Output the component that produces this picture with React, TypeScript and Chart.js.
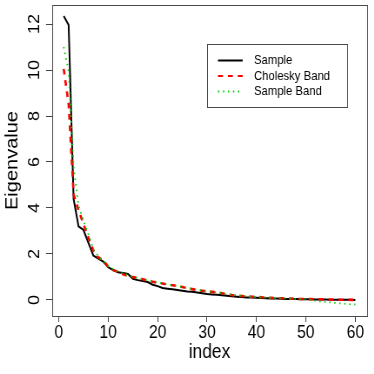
import React, { useEffect, useRef } from "react";
import { Chart, registerables } from "chart.js";
Chart.register(...registerables);

// ---- data ----
const indexValues = [
  1, 2, 3, 4, 5, 6, 7, 8, 9, 10, 11, 12, 13, 14, 15, 16, 17, 18, 19, 20,
  21, 22, 23, 24, 25, 26, 27, 28, 29, 30, 31, 32, 33, 34, 35, 36, 37, 38, 39, 40,
  41, 42, 43, 44, 45, 46, 47, 48, 49, 50, 51, 52, 53, 54, 55, 56, 57, 58, 59, 60,
];
const sampleValues = [
  12.35, 11.96, 4.4, 3.2, 3.04, 2.48, 1.93, 1.8, 1.67, 1.42,
  1.3, 1.2, 1.17, 1.13, 0.92, 0.86, 0.82, 0.78, 0.66, 0.6,
  0.52, 0.49, 0.46, 0.43, 0.4, 0.37, 0.35, 0.32, 0.29, 0.26,
  0.24, 0.22, 0.2, 0.18, 0.16, 0.14, 0.125, 0.11, 0.1, 0.09,
  0.08, 0.07, 0.065, 0.06, 0.05, 0.045, 0.04, 0.035, 0.03, 0.027,
  0.024, 0.02, 0.018, 0.015, 0.012, 0.01, 0.008, 0.005, 0.003, 0.001,
];
const choleskyValues = [
  10.05, 8.5, 4.6, 3.9, 3.3, 2.7, 2.15, 1.85, 1.72, 1.45,
  1.3, 1.22, 1.12, 1.05, 0.99, 0.95, 0.9, 0.84, 0.79, 0.75,
  0.71, 0.67, 0.64, 0.61, 0.56, 0.51, 0.47, 0.43, 0.4, 0.37,
  0.35, 0.33, 0.29, 0.25, 0.21, 0.18, 0.17, 0.15, 0.14, 0.125,
  0.115, 0.1, 0.09, 0.08, 0.07, 0.062, 0.055, 0.048, 0.042, 0.037,
  0.032, 0.028, 0.024, 0.02, 0.016, 0.012, 0.009, 0.006, 0.003, 0.0,
];
const sampleBandValues = [
  11.0, 9.95, 5.8, 4.1, 3.45, 2.85, 2.2, 1.88, 1.7, 1.48,
  1.33, 1.24, 1.15, 1.08, 1.0, 0.95, 0.9, 0.85, 0.8, 0.76,
  0.72, 0.68, 0.64, 0.6, 0.56, 0.52, 0.48, 0.44, 0.41, 0.38,
  0.35, 0.32, 0.29, 0.26, 0.23, 0.2, 0.18, 0.16, 0.14, 0.125,
  0.11, 0.1, 0.09, 0.08, 0.07, 0.06, 0.05, 0.04, 0.03, 0.02,
  0.0, -0.04, -0.07, -0.09, -0.11, -0.13, -0.15, -0.17, -0.19, -0.2,
];
const seriesLabels = ["Sample", "Cholesky Band", "Sample Band"];
const xTickValues = [0, 10, 20, 30, 40, 50, 60];
const yTickValues = [0, 2, 4, 6, 8, 10, 12];
const xAxisTitle = "index";
const yAxisTitle = "Eigenvalue";

// ---- layout / style ----
const SX = 0.87;
const W = 430;
const H = 374;
const FONT = "'Liberation Sans', Arial, Helvetica, sans-serif";

const toPoints = (vals: number[]) => vals.map((v, i) => ({ x: indexValues[i], y: v }));

const framePlugin = {
  id: "rframe",
  afterDatasetsDraw(chart: any) {
    const { ctx, chartArea: a } = chart;
    ctx.save();
    ctx.strokeStyle = "#4a4a4a";
    ctx.lineWidth = 1;
    ctx.setLineDash([]);
    ctx.strokeRect(
      Math.round(a.left) + 0.5,
      Math.round(a.top) + 0.5,
      Math.round(a.right - a.left),
      Math.round(a.bottom - a.top)
    );
    ctx.restore();
  },
};

const legendPlugin = {
  id: "rlegend",
  afterDraw(chart: any) {
    const { ctx, chartArea: a } = chart;
    const right = a.right - 23.3;
    const left = right - 161;
    const top = a.top + 39;
    const height = 62.7;
    const rowOffsets = [16.5, 32, 47.5];
    ctx.save();
    ctx.fillStyle = "#fff";
    ctx.fillRect(left, top, right - left, height);
    ctx.strokeStyle = "#4a4a4a";
    ctx.lineWidth = 1;
    ctx.setLineDash([]);
    ctx.strokeRect(Math.round(left) + 0.5, Math.round(top) + 0.5, Math.round(right - left), Math.round(height));
    chart.data.datasets.forEach((ds: any, i: number) => {
      const y = top + rowOffsets[i];
      ctx.strokeStyle = ds.borderColor;
      ctx.lineWidth = ds.legendWidth || ds.borderWidth;
      ctx.setLineDash(ds.borderDash || []);
      ctx.beginPath();
      ctx.moveTo(left + 13, y);
      ctx.lineTo(left + 41.4, y);
      ctx.stroke();
      ctx.setLineDash([]);
      ctx.fillStyle = "#000";
      ctx.font = `13px ${FONT}`;
      ctx.textBaseline = "middle";
      ctx.textAlign = "left";
      ctx.fillText(ds.label, left + 54.4, y);
    });
    ctx.restore();
  },
};

const zeroPadding = (s: any) => {
  s.paddingTop = 0;
  s.paddingBottom = 0;
  s.paddingLeft = 0;
  s.paddingRight = 0;
};

export default function App() {
  const ref = useRef<HTMLCanvasElement>(null);
  useEffect(() => {
    const chart = new Chart(ref.current as HTMLCanvasElement, {
      type: "line",
      data: {
        datasets: [
          {
            label: seriesLabels[0],
            data: toPoints(sampleValues),
            borderColor: "#000000",
            borderWidth: 2,
            order: 3,
          } as any,
          {
            label: seriesLabels[1],
            data: toPoints(choleskyValues),
            borderColor: "#FF0000",
            borderWidth: 2.6,
            legendWidth: 2,
            borderDash: [5.7, 5.7],
            order: 2,
          } as any,
          {
            label: seriesLabels[2],
            data: toPoints(sampleBandValues),
            borderColor: "#00CD00",
            borderWidth: 1.8,
            borderDash: [1.5, 4.25],
            order: 1,
          } as any,
        ],
      },
      options: {
        animation: false,
        responsive: false,
        maintainAspectRatio: false,
        layout: { padding: { left: 0, top: 5, right: 8.2, bottom: 0 } },
        plugins: { legend: { display: false }, tooltip: { enabled: false } },
        elements: { point: { radius: 0 }, line: { tension: 0, fill: false } },
        scales: {
          x: {
            type: "linear",
            min: -1.36,
            max: 62.36,
            afterBuildTicks: (s: any) => {
              s.ticks = xTickValues.map((v) => ({ value: v }));
            },
            afterFit: (s: any) => {
              s.height = 58;
              zeroPadding(s);
            },
            grid: { display: true, drawOnChartArea: false, drawTicks: true, tickLength: 6, color: "#444", lineWidth: 1 },
            border: { display: false },
            ticks: {
              font: { size: 18, family: FONT },
              color: "#000",
              padding: 0,
              autoSkip: false,
              maxRotation: 0,
              minRotation: 0,
            },
            title: {
              display: true,
              text: xAxisTitle,
              font: { size: 20, family: FONT },
              color: "#000",
              padding: { top: 0, bottom: 10 },
            },
          },
          y: {
            type: "linear",
            min: -0.7,
            max: 12.83,
            afterBuildTicks: (s: any) => {
              s.ticks = yTickValues.map((v) => ({ value: v }));
            },
            afterFit: (s: any) => {
              s.width = 59.8;
              zeroPadding(s);
            },
            grid: { display: true, drawOnChartArea: false, drawTicks: true, tickLength: 6.9, color: "#444", lineWidth: 1 },
            border: { display: false },
            ticks: {
              font: { size: 18, family: FONT },
              color: "#000",
              padding: 3.2,
              autoSkip: false,
              minRotation: 90,
              maxRotation: 90,
              crossAlign: "center",
            },
            title: {
              display: true,
              text: yAxisTitle,
              font: { size: 20, family: FONT },
              color: "#000",
              padding: { top: 2.4, bottom: 0 },
            },
          },
        },
      } as any,
      plugins: [framePlugin, legendPlugin],
    });
    return () => chart.destroy();
  }, []);

  return (
    <div
      style={{
        position: "absolute",
        left: 0,
        top: 0,
        width: W,
        height: H,
        transform: `scaleX(${SX})`,
        transformOrigin: "0 0",
      }}
    >
      <canvas ref={ref} width={W} height={H} style={{ display: "block", width: W, height: H }} />
    </div>
  );
}
